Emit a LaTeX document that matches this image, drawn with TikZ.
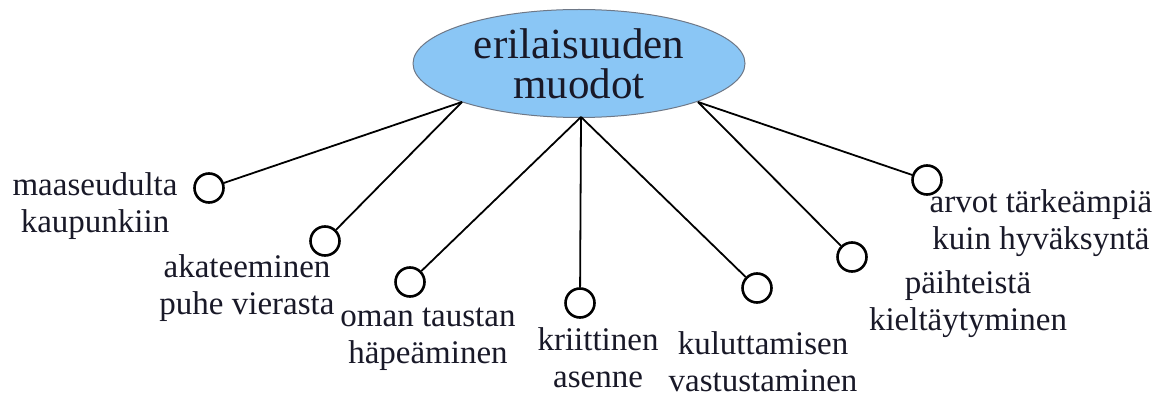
\documentclass[tikz,border=0pt]{standalone}
\usepackage{fontspec}
\setmainfont{Liberation Serif}
\usetikzlibrary{shapes.geometric}
\definecolor{ellfill}{RGB}{138,198,245}
\definecolor{ellline}{RGB}{110,120,135}
\definecolor{txt}{RGB}{25,25,40}
\begin{document}
\begin{tikzpicture}[x=1pt,y=-1pt,
  hub/.style={ellipse, draw=ellline, line width=1pt, fill=ellfill, minimum width=332pt, minimum height=108pt, inner sep=0pt, align=center, text=txt, font=\fontsize{43}{40}\selectfont},
  leaf/.style={circle, draw=black, line width=2.6pt, minimum size=29pt, inner sep=0pt},
  lbl/.style={align=center, text=txt, font=\fontsize{33}{37}\selectfont, inner sep=0pt},
  link/.style={draw=black, line width=1.8pt}]
\useasboundingbox (0,0) rectangle (1166,398);
\fill[white] (0,0) rectangle (1166,398);
\node[hub] (c) at (579,63.5) {erilaisuuden\\muodot};
\coordinate (pl) at (462,102);
\coordinate (pb) at (581,117);
\coordinate (pr) at (698,102);
\node[leaf] (k1) at (209,188) {};
\node[leaf] (k2) at (325,241) {};
\node[leaf] (k3) at (410,282) {};
\node[leaf] (k4) at (580,303) {};
\node[leaf] (k5) at (757,288) {};
\node[leaf] (k6) at (852,257) {};
\node[leaf] (k7) at (927,180) {};
\draw[link] (pl) -- (k1);
\draw[link] (pl) -- (k2);
\draw[link] (pb) -- (k3);
\draw[link] (pb) -- (k4);
\draw[link] (pb) -- (k5);
\draw[link] (pr) -- (k6);
\draw[link] (pr) -- (k7);
\node[lbl] (t1) at (95,206) {maaseudulta\\kaupunkiin};
\node[lbl] (t2) at (247,288) {akateeminen\\puhe vierasta};
\node[lbl] (t3) at (428,339) {oman taustan\\häpeäminen};
\node[lbl] (t4) at (598,358) {kriittinen\\asenne};
\node[lbl] (t5) at (763,362) {kuluttamisen\\vastustaminen};
\node[lbl] (t6) at (968,304) {päihteistä\\kieltäytyminen};
\node[lbl] (t7) at (1041,223) {arvot tärkeämpiä\\kuin hyväksyntä};
\end{tikzpicture}
\end{document}
